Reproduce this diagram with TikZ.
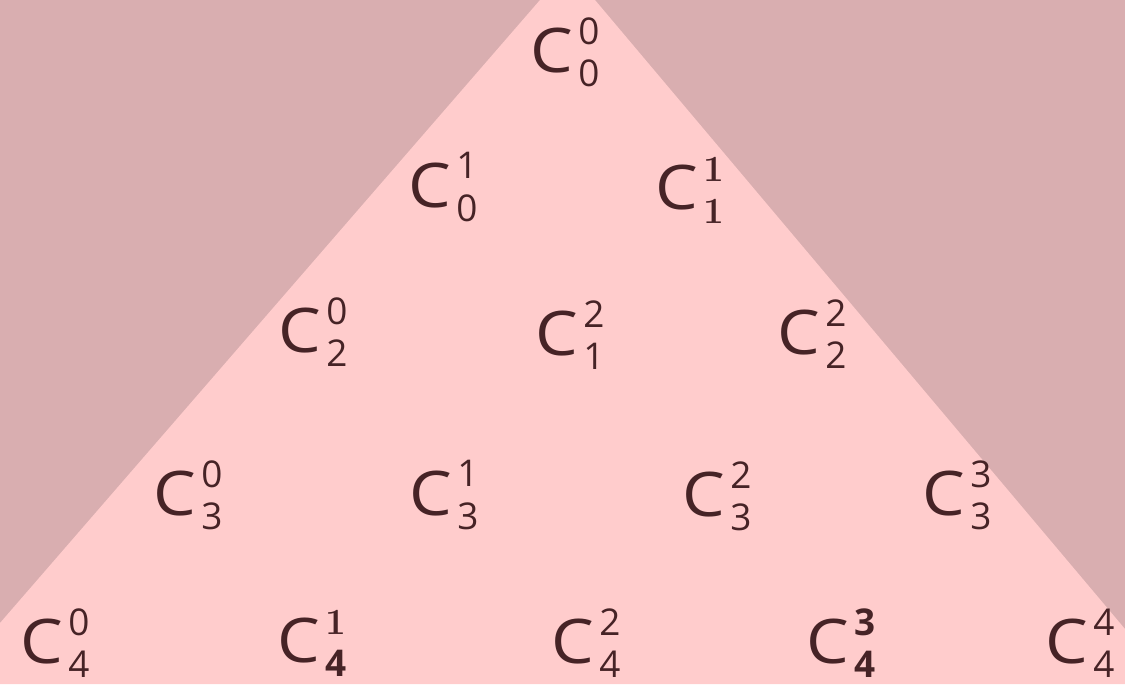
\documentclass[tikz,border=0pt]{standalone}
\usepackage{fontspec}
\setmainfont{Open Sans}
\definecolor{bgpink}{RGB}{217,174,176}
\definecolor{tripink}{RGB}{255,204,204}
\definecolor{ink}{RGB}{70,35,38}
\newcommand{\scr}{\fontsize{21}{21}\selectfont}
\newcommand{\lbl}[2]{\scalebox{1.1}[1]{C}\kern3pt\rlap{\raisebox{16pt}{\scr#2}}\raisebox{-8pt}{\scr#1}}
\newfontfamily\lmfont{Latin Modern Roman}
\begin{document}
\begin{tikzpicture}[x=0.02cm,y=-0.02cm,
  lab/.style={text=ink,font=\fontsize{35}{35}\selectfont,inner sep=0pt,anchor=center}]
\useasboundingbox (0,0) rectangle (1125,684);
\fill[bgpink] (0,0) rectangle (1125,684);
\fill[tripink] (540,0) -- (595,0) -- (1125,629) -- (1125,684) -- (0,684) -- (0,623) -- cycle;
\node[lab] (c00) at (565,52) {\lbl{0}{0}};
\node[lab] (c01) at (443,187) {\lbl{0}{1}};
\node[lab] (c11) at (690,190) {\lbl{{\lmfont\bfseries 1}}{{\lmfont\bfseries 1}}};
\node[lab] (c20) at (313,332) {\lbl{2}{0}};
\node[lab] (c12) at (570,335) {\lbl{1}{2}};
\node[lab] (c22) at (812,334) {\lbl{2}{2}};
\node[lab] (c30) at (188,495) {\lbl{3}{0}};
\node[lab] (c31) at (444,495) {\lbl{3}{1}};
\node[lab] (c32) at (717,496) {\lbl{3}{2}};
\node[lab] (c33) at (957,495) {\lbl{3}{3}};
\node[lab] (c40) at (55,643) {\lbl{4}{0}};
\node[lab] (c41) at (312,643) {\lbl{\bfseries 4}{{\lmfont\bfseries 1}}};
\node[lab] (c42) at (586,643) {\lbl{4}{2}};
\node[lab] (c43) at (841,643) {\lbl{\bfseries 4}{\bfseries 3}};
\node[lab] (c44) at (1080,643) {\lbl{4}{4}};
\end{tikzpicture}
\end{document}
